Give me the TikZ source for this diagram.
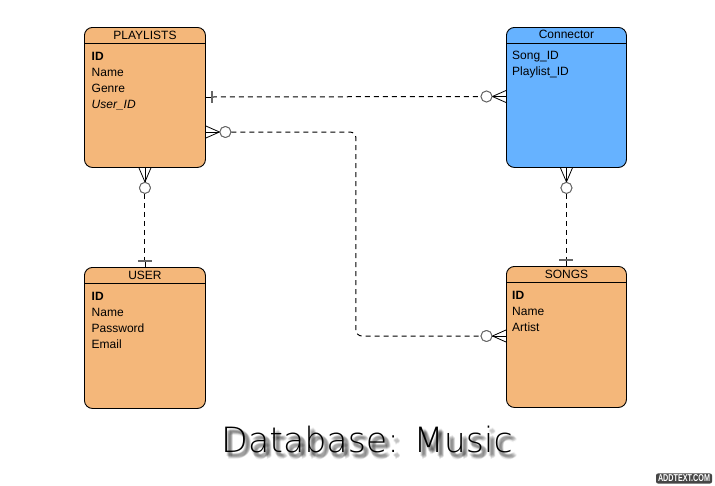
\documentclass[tikz,border=0pt]{standalone}
\usepackage{graphicx}
\usepackage{fontspec}
\setmainfont{Liberation Sans}
\newfontfamily\titlefont{DejaVu Sans ExtraLight}
\usetikzlibrary{calc}
\definecolor{orangefill}{RGB}{244,183,122}
\definecolor{bluefill}{RGB}{102,178,255}
\definecolor{markgray}{RGB}{102,102,102}
\definecolor{wmgray}{RGB}{70,70,70}
\begin{document}
\begin{tikzpicture}[x=1pt,y=-1pt,
 entity/.style={draw=black, line width=0.9pt, rounded corners=8pt, anchor=north west, inner sep=0pt},
 field/.style={anchor=base west, inner sep=0pt, font=\fontsize{12}{14}\selectfont},
 ttl/.style={anchor=base, inner sep=0pt, font=\fontsize{12}{14}\selectfont},
 rel/.style={dash pattern=on 5pt off 4pt, line width=1pt},
 foot/.style={line width=0.8pt},
 ring/.style={circle, draw=markgray, fill=white, line width=0.9pt, minimum size=11pt, inner sep=0pt},
 bar/.style={draw=markgray, line width=1.8pt},
 titletxt/.style={anchor=base, inner sep=0pt, font=\titlefont\fontsize{34.8}{40}\selectfont},
 shadowtxt/.style={titletxt, text=black, text opacity=0.065},
]
\fill[white] (0,0) rectangle (715,485);
\useasboundingbox (0,0) rectangle (715,485);

% entities
\node[entity, fill=orangefill, minimum width=121pt, minimum height=140pt] (playlists) at (84,27) {};
\node[entity, fill=bluefill, minimum width=120pt, minimum height=140pt] (connector) at (506,27) {};
\node[entity, fill=orangefill, minimum width=121pt, minimum height=141pt] (user) at (84,267) {};
\node[entity, fill=orangefill, minimum width=120pt, minimum height=141pt] (songs) at (506,266) {};

\foreach \e in {playlists,connector,user,songs}{
  \draw[line width=0.9pt] ([yshift=-16pt]\e.north west) -- ([yshift=-16pt]\e.north east);
}

% titles
\node[ttl] (plT) at (playlists.north |- 0,39.5) {PLAYLISTS};
\node[ttl] (coT) at (connector.north |- 0,38.5) {Connector};
\node[ttl] (usT) at (user.north |- 0,279.5) {USER};
\node[ttl] (soT) at (songs.north |- 0,278) {SONGS};

% fields
\node[field] (pl1) at (91.5,60) {\bfseries ID};
\node[field] (pl2) at (91.5,76) {Name};
\node[field] (pl3) at (91.5,92) {Genre};
\node[field] (pl4) at (91.5,108) {\itshape User\_ID};

\node[field] (co1) at (512,59) {Song\_ID};
\node[field] (co2) at (512,75) {Playlist\_ID};

\node[field] (us1) at (91.5,300) {\bfseries ID};
\node[field] (us2) at (91.5,316) {Name};
\node[field] (us3) at (91.5,332) {Password};
\node[field] (us4) at (91.5,348) {Email};

\node[field] (so1) at (512,299) {\bfseries ID};
\node[field] (so2) at (512,315) {Name};
\node[field] (so3) at (512,331) {Artist};

% relation A: playlists -- connector
\coordinate (pA) at (playlists.east |- 0,97);
\coordinate (cA) at (connector.west |- 0,96.5);
\coordinate (pAb) at ([xshift=6pt]pA);
\node[ring] (rA) at ([xshift=-19.5pt]cA) {};
\draw[rel] (pAb) -- (rA.west);
\draw[foot] (pA) -- (pAb);
\draw[bar] ([yshift=6pt]pAb) -- ([yshift=-6pt]pAb);
\draw[foot] ([yshift=6pt]cA) -- (rA.east) -- ([yshift=-6pt]cA);
\draw[foot] (rA.east) -- (cA);
\node[ring] at (rA) {};

% relation B: playlists -- songs
\coordinate (pB) at (playlists.east |- 0,132);
\coordinate (sB) at (songs.west |- 0,336);
\node[ring] (rB) at ([xshift=19.5pt]pB) {};
\node[ring] (rB2) at ([xshift=-19.5pt]sB) {};
\draw[rel, rounded corners=6pt] (rB.east) -| ($(rB.east)!0.5!(rB2.west)$) |- (rB2.west);
\draw[foot] ([yshift=6pt]pB) -- (rB.west) -- ([yshift=-6pt]pB);
\draw[foot] (rB.west) -- (pB);
\draw[foot] ([yshift=6pt]sB) -- (rB2.east) -- ([yshift=-6pt]sB);
\draw[foot] (rB2.east) -- (sB);
\node[ring] at (rB) {};
\node[ring] at (rB2) {};

% relation C: playlists -- user
\coordinate (uCb) at ([yshift=6pt]user.north);
\node[ring] (rC) at ([yshift=-20pt]playlists.south) {};
\draw[rel] (rC.south) -- (uCb);
\draw[foot] ([xshift=-6pt]playlists.south) -- (rC.north) -- ([xshift=6pt]playlists.south);
\draw[foot] (rC.north) -- (playlists.south);
\draw[foot] (uCb) -- (user.north);
\draw[bar] ([xshift=-7pt]uCb) -- ([xshift=7pt]uCb);
\node[ring] at (rC) {};

% relation D: connector -- songs
\coordinate (sDb) at ([yshift=6pt]songs.north);
\node[ring] (rD) at ([yshift=-20pt]connector.south) {};
\draw[rel] (rD.south) -- (sDb);
\draw[foot] ([xshift=-6pt]connector.south) -- (rD.north) -- ([xshift=6pt]connector.south);
\draw[foot] (rD.north) -- (connector.south);
\draw[foot] (sDb) -- (songs.north);
\draw[bar] ([xshift=-7pt]sDb) -- ([xshift=7pt]sDb);
\node[ring] at (rD) {};

% title with soft blurred shadow
\foreach \dx/\dy in {2/3,3/3,4/3,5/3,2/4,3/4,4/4,5/4,6/4,2/5,3/5,4/5,5/5,6/5,3/6,4/6,5/6,4/2,3/7,1/4}{
  \node[shadowtxt] at (367+\dx,452+\dy) {Database: Music};
}
\node[titletxt] (title) at (367,452) {Database: Music};

% watermark
\node[fill=wmgray, rounded corners=2pt, text=white, inner xsep=2pt, inner ysep=1.5pt,
  font=\bfseries\fontsize{10}{10}\selectfont] (wm) at (684,478.5) {\scalebox{0.72}[1]{ADDTEXT.COM}};
\end{tikzpicture}
\end{document}
